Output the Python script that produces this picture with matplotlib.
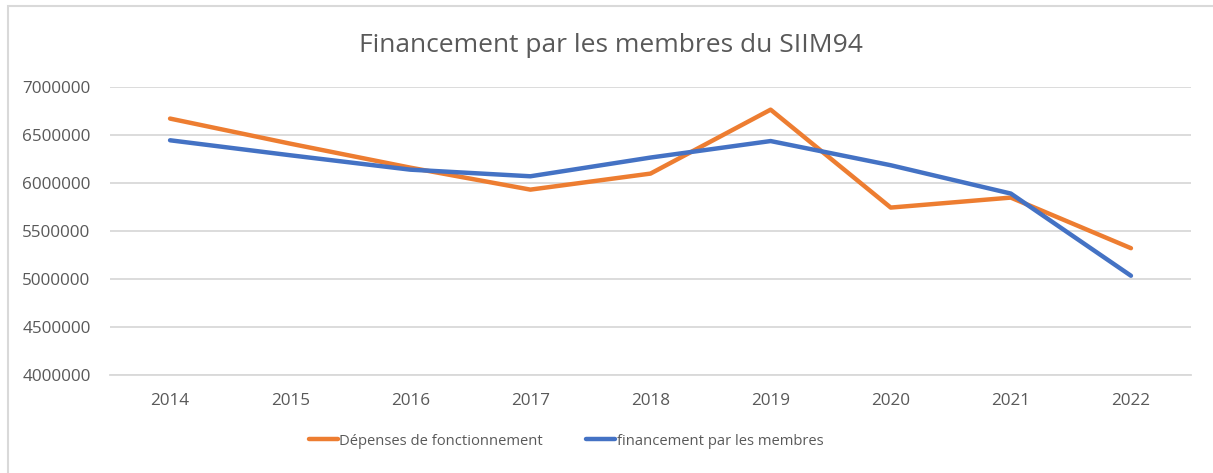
import matplotlib.pyplot as plt
from matplotlib.patches import Rectangle

annees = [2014, 2015, 2016, 2017, 2018, 2019, 2020, 2021, 2022]
depenses = [6671000, 6410000, 6160000, 5931000, 6098000, 6764000, 5744000, 5848000, 5321000]
financement = [6445000, 6289000, 6139000, 6070000, 6265000, 6437000, 6185000, 5890000, 5034000]
y_ticks = [4000000, 4500000, 5000000, 5500000, 6000000, 6500000, 7000000]

W, H = 1213, 473
fig = plt.figure(figsize=(W/100, H/100), dpi=100)
plt.rcParams['font.family'] = ['Open Sans', 'DejaVu Sans']

# cadre du graphique (style Excel)
fig.patches.append(Rectangle((8/W, -0.1), 1.2, (H-6)/H + 0.1, transform=fig.transFigure,
                             fill=False, ec="#d9d9d9", lw=1.5))

ax = fig.add_axes([110/W, 1-375/H, (1191-110)/W, (375-87)/H])
x = list(range(len(annees)))
ax.plot(x, depenses, color="#ED7D31", lw=3.2, solid_capstyle="round", solid_joinstyle="round",
        label="Dépenses de fonctionnement")
ax.plot(x, financement, color="#4472C4", lw=3.2, solid_capstyle="round", solid_joinstyle="round",
        label="financement par les membres")

ax.set_xlim(-0.5, len(annees)-0.5)
ax.set_ylim(4000000, 7000000)
ax.set_yticks(y_ticks)
ax.set_yticklabels([str(v) for v in y_ticks])
ax.set_xticks(x)
ax.set_xticklabels([str(a) for a in annees])
ax.grid(axis="y", color="#d9d9d9", lw=1.3)
ax.set_axisbelow(True)
for s in ["top", "right", "left"]:
    ax.spines[s].set_visible(False)
ax.spines["bottom"].set_color("#d9d9d9")
ax.spines["bottom"].set_linewidth(1.3)
ax.tick_params(axis="both", length=0, labelsize=12.3, colors="#595959")
ax.tick_params(axis="y", pad=14)
ax.tick_params(axis="x", pad=13)

fig.text(611/W, 1-45/H, "Financement par les membres du SIIM94", ha="center", va="center",
         fontsize=19, color="#595959")

leg = fig.legend(loc="center", bbox_to_anchor=(566/W, 1-441/H), ncol=2, frameon=False,
                 fontsize=10.6, handlelength=2.0, handletextpad=0.1, columnspacing=2.9)
for t in leg.get_texts():
    t.set_color("#595959")

fig.savefig("out.png", dpi=100)
